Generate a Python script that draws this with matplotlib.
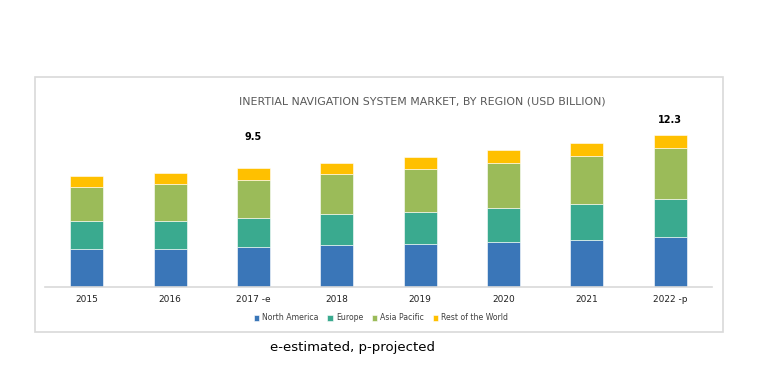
import numpy as np
import matplotlib.pyplot as plt
from matplotlib.patches import Rectangle

years = ["2015", "2016", "2017 -e", "2018", "2019", "2020", "2021", "2022 -p"]
north_america = np.array([3.07, 3.07, 3.20, 3.36, 3.50, 3.66, 3.83, 4.07])
europe = np.array([2.23, 2.23, 2.34, 2.53, 2.55, 2.71, 2.91, 3.03])
asia_pacific = np.array([2.82, 3.04, 3.15, 3.28, 3.47, 3.69, 3.84, 4.12])
rest_of_world = np.array([0.86, 0.86, 0.92, 0.89, 1.02, 0.99, 1.05, 1.08])
series_names = ["North America", "Europe", "Asia Pacific", "Rest of the World"]
colors = ["#3A76B8", "#3AAA8F", "#9BBB59", "#FFC000"]

# labelled totals: bar index -> text
total_labels = {2: "9.5", 7: "12.3"}
label_offsets = {2: 19, 7: 7}

W, H = 784, 385
fig = plt.figure(figsize=(W / 100, H / 100), dpi=100)
fig.patch.set_facecolor("white")

# outer chart frame
fig.patches.append(Rectangle((35 / W, 1 - 332 / H), (723 - 35) / W, (332 - 77) / H,
                             transform=fig.transFigure, fill=False,
                             edgecolor="#D9D9D9", linewidth=1.2))

ax = fig.add_axes([45 / W, 1 - 287 / H, (712 - 45) / W, (287 - 120) / H])

x = np.arange(len(years))
bottom = np.zeros(len(years))
for vals, name, c in zip([north_america, europe, asia_pacific, rest_of_world], series_names, colors):
    ax.bar(x, vals, width=0.395, bottom=bottom, color=c, label=name,
           edgecolor="white", linewidth=0.4)
    bottom = bottom + vals

for i, txt in total_labels.items():
    ax.annotate(txt, (x[i], bottom[i]), xytext=(0, label_offsets[i]),
                textcoords="offset points", ha="center", va="bottom",
                fontsize=7, color="black", fontweight="semibold")

ax.set_xlim(-0.5, 7.5)
ax.set_ylim(0, 13.5)
ax.set_yticks([])
ax.set_xticks(x)
ax.set_xticklabels(years, fontsize=6.5, color="#222222")
ax.tick_params(axis="x", length=0, pad=6)
for s in ["top", "right", "left"]:
    ax.spines[s].set_visible(False)
ax.spines["bottom"].set_color("#D9D9D9")
ax.spines["bottom"].set_linewidth(1.2)

fig.text(422 / W, 1 - 101 / H, "INERTIAL NAVIGATION SYSTEM MARKET, BY REGION (USD BILLION)",
         ha="center", va="center", fontsize=7.9, color="#595959")

fig.legend(loc="center", bbox_to_anchor=(381 / W, 1 - 318 / H), ncol=4,
           frameon=False, fontsize=5.6, handlelength=0.7, handleheight=0.7,
           handletextpad=0.4, columnspacing=1.1, labelcolor="#404040")

fig.text(353 / W, 1 - 348 / H, "e-estimated, p-projected", ha="center", va="center",
         fontsize=9.5, color="black")

fig.savefig("out.png", dpi=100)
